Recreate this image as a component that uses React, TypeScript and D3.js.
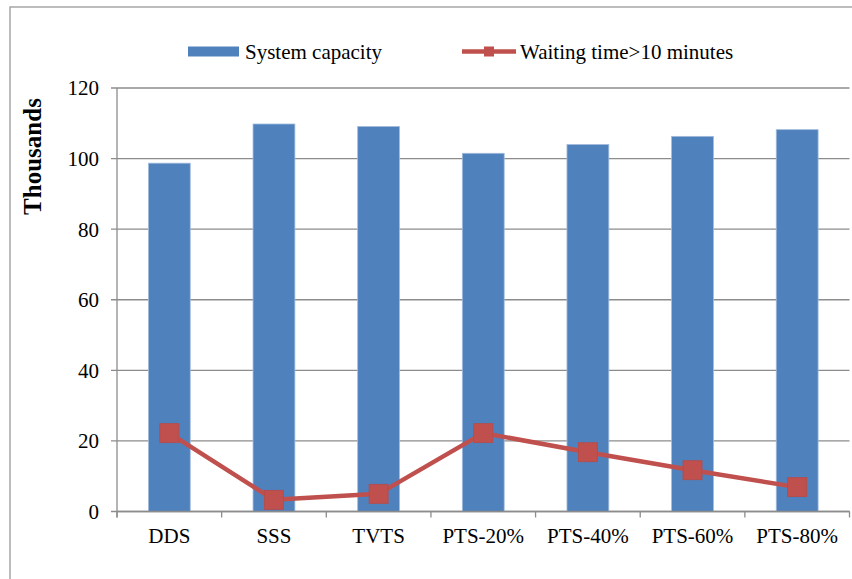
import React from "react";
import * as d3 from "d3";

const categories = ["DDS", "SSS", "TVTS", "PTS-20%", "PTS-40%", "PTS-60%", "PTS-80%"];
const capacity = [98.7, 109.8, 109.1, 101.5, 104.0, 106.3, 108.2];
const waiting = [22.2, 3.3, 5.0, 22.2, 16.8, 11.7, 6.9];
const yTicks = [0, 20, 40, 60, 80, 100, 120];
const seriesNames = ["System capacity", "Waiting time>10 minutes"];

const W = 852;
const H = 579;
const left = 117;
const right = 849.5;
const top = 88;
const bottom = 511.5;
const font = "Liberation Serif";
const blue = "#4F81BD";
const red = "#C0504D";
const grid = "#8C8C8C";

export default function App() {
  const x = d3.scaleBand<string>().domain(categories).range([left, right]).paddingInner(0.6).paddingOuter(0.3);
  const xs = d3.scaleBand<string>().domain(categories).range([left, right]).padding(0);
  const y = d3.scaleLinear().domain([0, 120]).range([bottom, top]);
  const line = d3
    .line<number>()
    .x((_, i) => (x(categories[i]) as number) + x.bandwidth() / 2)
    .y((d) => y(d));
  const ms = 19;
  return (
    <svg width={W} height={H} style={{ position: "absolute", left: 0, top: 0, background: "#fff" }}>
      <rect x={10} y={7} width={W + 10} height={H + 10} fill="#fff" stroke="#999" strokeWidth={1.3} />
      {/* legend */}
      <rect x={188} y={46.5} width={51} height={10} fill={blue} />
      <text x={245} y={58.5} fontFamily={font} fontSize={21} fill="#000">{seriesNames[0]}</text>
      <line x1={462} x2={516} y1={51.5} y2={51.5} stroke={red} strokeWidth={4.5} />
      <rect x={484} y={46.5} width={10} height={10} fill={red} />
      <text x={520} y={58.5} fontFamily={font} fontSize={21} fill="#000">{seriesNames[1]}</text>
      {/* y axis title */}
      <text
        transform={`translate(41, ${(98 + 215) / 2}) rotate(-90)`}
        textAnchor="middle"
        fontFamily={font}
        fontSize={25}
        fontWeight="bold"
        fill="#000"
      >
        Thousands
      </text>
      {/* grid + y ticks */}
      {yTicks.map((t) => (
        <g key={t}>
          <line x1={111} x2={right} y1={y(t)} y2={y(t)} stroke={grid} strokeWidth={1.3} />
          <text x={99} y={y(t)} dy="0.35em" textAnchor="end" fontFamily={font} fontSize={21} fill="#000">
            {t}
          </text>
        </g>
      ))}
      <line x1={left} x2={left} y1={top} y2={bottom + 6} stroke={grid} strokeWidth={1.3} />
      {/* x ticks */}
      {categories.map((c) => (
        <line key={c} x1={xs(c) as number} x2={xs(c) as number} y1={bottom} y2={bottom + 6} stroke={grid} strokeWidth={1.3} />
      ))}
      <line x1={right} x2={right} y1={bottom} y2={bottom + 6} stroke={grid} strokeWidth={1.3} />
      {/* bars */}
      {categories.map((c, i) => (
        <rect
          key={c}
          x={x(c)}
          y={y(capacity[i])}
          width={x.bandwidth()}
          height={bottom - y(capacity[i])}
          fill={blue}
          stroke="#A3BCDD"
          strokeWidth={0.8}
        />
      ))}
      <line x1={left} x2={right} y1={bottom} y2={bottom} stroke={grid} strokeWidth={1.3} />
      {/* x labels */}
      {categories.map((c) => (
        <text
          key={c}
          x={(x(c) as number) + x.bandwidth() / 2}
          y={543}
          textAnchor="middle"
          fontFamily={font}
          fontSize={21}
          fill="#000"
        >
          {c}
        </text>
      ))}
      {/* line */}
      <path d={line(waiting) || ""} fill="none" stroke={red} strokeWidth={4.5} strokeLinejoin="round" />
      {waiting.map((v, i) => (
        <rect
          key={i}
          x={(x(categories[i]) as number) + x.bandwidth() / 2 - ms / 2}
          y={y(v) - ms / 2}
          width={ms}
          height={ms}
          fill={red}
          stroke="#B84A47"
          strokeWidth={0.8}
        />
      ))}
    </svg>
  );
}
